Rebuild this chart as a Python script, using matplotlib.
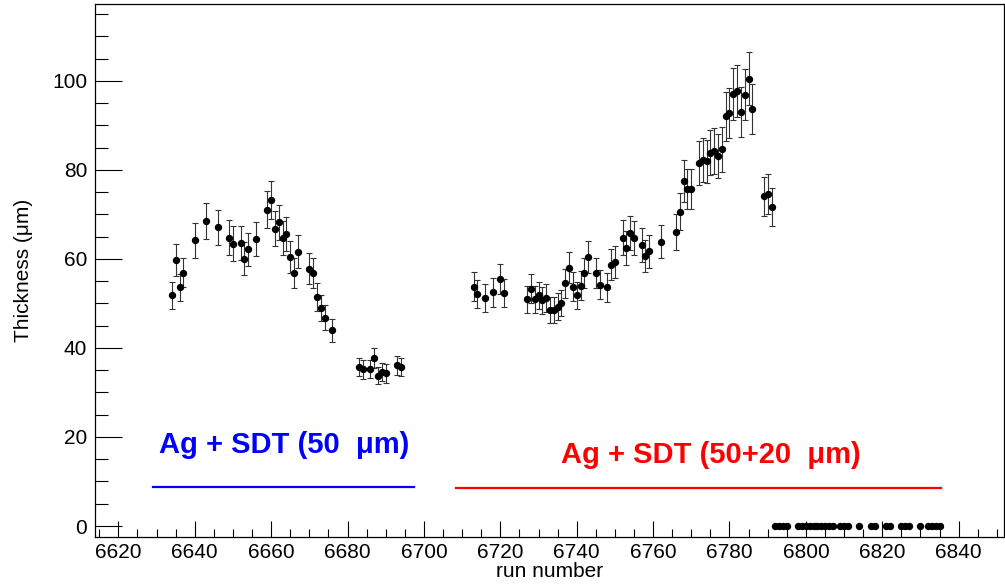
import matplotlib
matplotlib.use("Agg")
import matplotlib.pyplot as plt
from matplotlib.ticker import MultipleLocator

plt.rcParams['font.family'] = ['Liberation Sans', 'DejaVu Sans']

# Ag + SDT (50 um) target runs
run_a = [6634, 6635, 6636, 6637, 6640, 6643, 6646, 6649, 6650, 6652,
         6653, 6654, 6656, 6659, 6660, 6661, 6662, 6663, 6664, 6665,
         6666, 6667, 6670, 6671, 6672, 6673, 6674, 6676,
         6683, 6684, 6686, 6687, 6688, 6689, 6690, 6693, 6694]
thick_a = [51.8, 59.7, 53.6, 56.9, 64.2, 68.5, 67.1, 64.8, 63.4, 63.6,
           60.0, 62.2, 64.5, 71.1, 73.2, 66.8, 68.2, 64.7, 65.6, 60.4,
           56.8, 61.6, 57.8, 56.9, 51.5, 49.0, 46.8, 44.0,
           35.7, 35.2, 35.3, 37.8, 33.8, 34.6, 34.3, 36.1, 35.7]
err_a = [3.1, 3.6, 3.1, 3.3, 3.9, 4.1, 4.0, 3.9, 3.9, 3.9,
         3.7, 3.7, 3.9, 4.2, 4.3, 4.0, 3.9, 3.9, 3.9, 3.6,
         3.4, 3.7, 3.5, 3.4, 3.1, 2.9, 2.8, 2.6,
         2.1, 2.1, 2.1, 2.3, 2.0, 2.1, 2.1, 2.2, 2.1]

# Ag + SDT (50+20 um) target runs
run_b = [6713, 6714, 6716, 6718, 6720, 6721,
         6727, 6728, 6729, 6730, 6731, 6732, 6733, 6734, 6735, 6736,
         6737, 6738, 6739, 6740, 6741, 6742, 6743, 6745, 6746, 6748,
         6749, 6750, 6752, 6753, 6754, 6755, 6757, 6758, 6759, 6762,
         6766, 6767, 6768, 6769, 6770, 6772, 6773, 6774, 6775, 6776,
         6777, 6778, 6779, 6780, 6781, 6782, 6783, 6784, 6785, 6786,
         6789, 6790, 6791]
thick_b = [53.8, 52.1, 51.2, 52.5, 55.5, 52.4,
           50.9, 53.3, 50.9, 51.8, 50.7, 51.2, 48.5, 48.6, 49.3, 50.1,
           54.5, 58.0, 53.8, 51.8, 54.0, 56.8, 60.4, 56.9, 54.2, 53.6,
           58.7, 59.3, 64.8, 62.5, 65.8, 64.7, 63.2, 60.6, 61.7, 63.9,
           66.1, 70.6, 77.5, 75.8, 75.7, 81.6, 82.2, 81.9, 83.9, 84.2,
           83.1, 84.6, 92.1, 92.7, 97.1, 97.7, 93.1, 96.9, 100.5, 93.7,
           74.1, 74.6, 71.6]
err_b = [3.2, 3.1, 3.1, 3.2, 3.3, 3.1,
         3.1, 3.2, 3.1, 3.1, 3.0, 3.1, 2.9, 2.9, 3.0, 3.0,
         3.3, 3.5, 3.2, 3.1, 3.2, 3.4, 3.6, 3.4, 3.3, 3.2,
         3.5, 3.6, 3.9, 3.8, 3.9, 3.9, 3.8, 3.6, 3.7, 3.8,
         4.0, 4.2, 4.7, 4.5, 4.5, 4.9, 4.9, 4.9, 5.0, 5.1,
         5.0, 5.1, 5.5, 5.6, 5.8, 5.9, 5.6, 5.8, 6.0, 5.6,
         4.4, 4.5, 4.3]

# runs with no measurement
run_zero = [6792, 6793, 6794, 6795, 6798, 6799, 6800, 6801, 6802, 6803,
            6804, 6805, 6806, 6807, 6809, 6810, 6811, 6814, 6817, 6818,
            6821, 6822, 6825, 6826, 6827, 6830, 6832, 6833, 6834, 6835]
thick_zero = [0.0] * len(run_zero)

fig = plt.figure(figsize=(10.05, 5.88), dpi=100)
ax = fig.add_axes([0.095, 0.0862, 0.9045, 0.9065])

for r, t, e in [(run_a, thick_a, err_a), (run_b, thick_b, err_b)]:
    ax.errorbar(r, t, yerr=e, fmt='o', color='black', ms=4.3,
                elinewidth=0.8, capsize=2.0, capthick=0.8, ecolor='#333333')
ax.plot(run_zero, thick_zero, 'o', color='black', ms=4.3)

# target period markers
ax.plot([6629, 6697.5], [8.8, 8.8], color='#0000ff', lw=1.6)
ax.plot([6708.5, 6835.5], [8.6, 8.6], color='#ff0000', lw=1.6)
ax.text(6663.5, 18.3, 'Ag + SDT (50  \u03bcm)', color='#0000ff', fontsize=21,
        fontweight='bold', ha='center', va='center')
ax.text(6775, 16.0, 'Ag + SDT (50+20  \u03bcm)', color='#ff0000', fontsize=21,
        fontweight='bold', ha='center', va='center')

ax.set_xlim(6614, 6852)
ax.set_ylim(-2.54, 117.2)
ax.xaxis.set_major_locator(MultipleLocator(20))
ax.xaxis.set_minor_locator(MultipleLocator(5))
ax.yaxis.set_major_locator(MultipleLocator(20))
ax.yaxis.set_minor_locator(MultipleLocator(5))
ax.tick_params(axis='x', which='major', direction='in', length=11.5,
               width=0.8, labelsize=15, pad=4)
ax.tick_params(axis='x', which='minor', direction='in', length=5.8, width=0.8)
ax.tick_params(axis='y', which='major', direction='in', length=19.5,
               width=0.8, labelsize=15, pad=6)
ax.tick_params(axis='y', which='minor', direction='in', length=9.5, width=0.8)
for s in ax.spines.values():
    s.set_linewidth(0.9)

ax.set_xlabel('run number', fontsize=15, labelpad=0)
ax.set_ylabel('Thickness (\u03bcm)', fontsize=15, labelpad=14)

fig.savefig('out.png', dpi=100)
